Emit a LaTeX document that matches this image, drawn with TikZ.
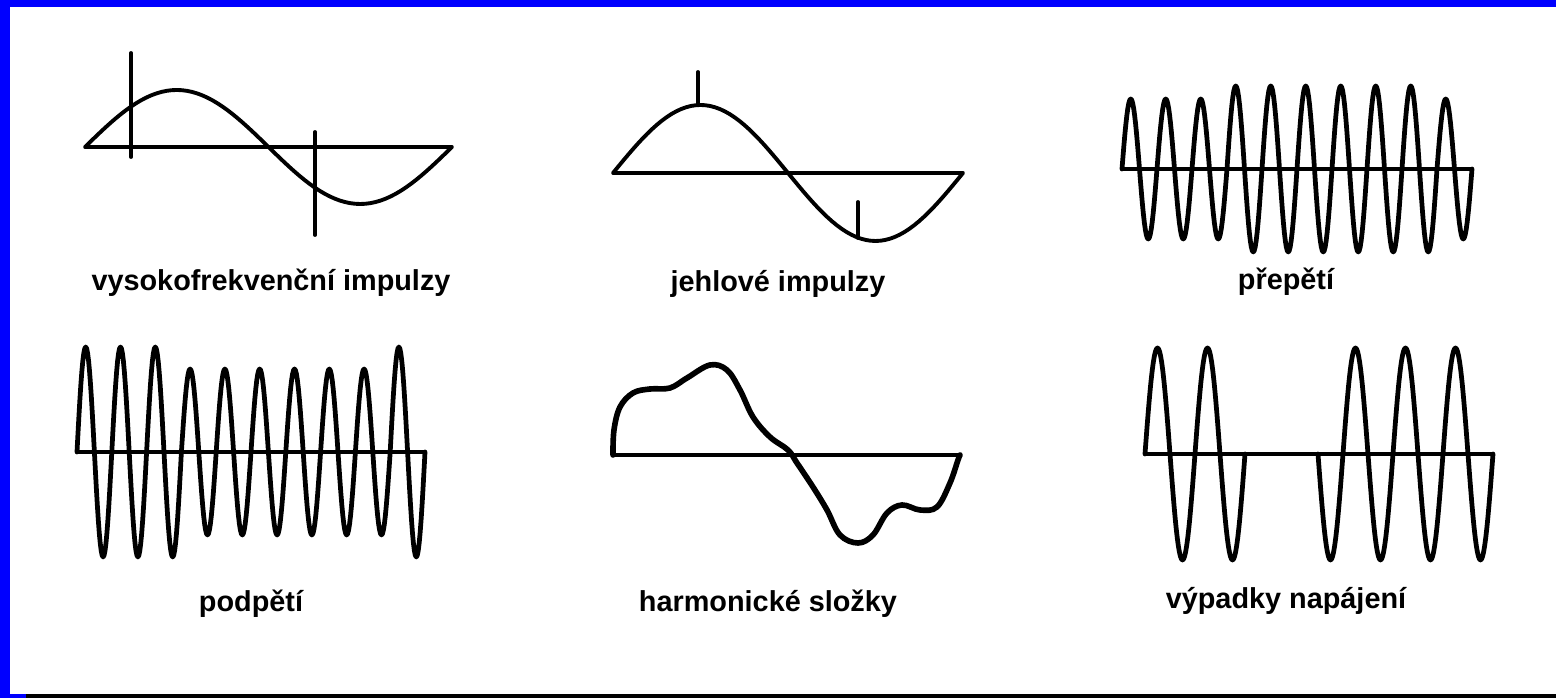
\documentclass[tikz,border=0pt]{standalone}
\usepackage{fontspec}
\setmainfont{Liberation Sans}

\begin{document}
\begin{tikzpicture}[
        x=0.01cm, y=-0.01cm,
        every node/.style={font=\fontsize{8.2}{9.8}\selectfont\bfseries},
        axis/.style={line width=0.9pt, line cap=round},
        wave/.style={line width=1.1pt, line cap=round, line join=round},
        osc/.style={line width=1.35pt, line cap=round, line join=round},
        harm/.style={line width=1.6pt, line cap=round, line join=round},
        spike/.style={line width=1.1pt, line cap=round},
        lbl/.style={anchor=base}
    ]
        \useasboundingbox (0,0) rectangle (1556,698);
        % frame
        \fill[blue] (0,0) rectangle (1556,7);
        \fill[blue] (0,0) rectangle (10,698);
        \fill[blue] (0,694) rectangle (26,698);
        \fill[black] (26,694) rectangle (1556,698);

        % high-frequency pulses
        \draw[axis] (85,147) -- (452,147);
        \draw[wave] plot[domain=0:360, samples=73] ({85+\x/360*367}, {147-57*sin(\x)});
        \draw[spike] (131,53) -- (131,157);
        \draw[spike] (315,132) -- (315,235);

        % needle pulses
        \draw[axis] (613,173) -- (963,173);
        \draw[wave] plot[domain=0:360, samples=73] ({613+\x/360*350}, {173-68*sin(\x)});
        \draw[spike] (698,72) -- (698,105);
        \draw[spike] (858,202) -- (858,238);

        % overvoltage
        \draw[axis] (1122,169) -- (1472,169);
        \foreach \k/\a in {0/70,1/70,2/70,3/83,4/83,5/83,6/83,7/83,8/83,9/70}
            \draw[osc] plot[domain=0:360, samples=37] ({1122+35*\k+\x/360*35}, {169-\a*sin(\x)});

        % undervoltage
        \draw[axis] (77,452) -- (425,452);
        \foreach \k/\a in {0/105,1/105,2/105,3/83,4/83,5/83,6/83,7/83,8/83,9/105}
            \draw[osc] plot[domain=0:360, samples=37] ({77+34.8*\k+\x/360*34.8}, {452-\a*sin(\x)});

        % harmonics
        \draw[axis] (613,455) -- (960,455);
        \draw[harm] plot[smooth, tension=0.6] coordinates {
            (613,455) (614,430) (620,407) (633,393) (650,389) (670,388)
            (687,378) (710,365) (727,370) (740,390) (753,417) (770,437)
            (788,450) (797,463) (813,487) (827,510) (840,535) (858,543)
            (873,535) (887,513) (902,505) (920,510) (937,507) (950,483)
            (958,460) (960,455)};

        % dropouts
        \draw[axis] (1145,454) -- (1493,454);
        \draw[osc] plot[domain=0:720, samples=97] ({1145+\x/360*50}, {454-106*sin(\x)});
        \draw[osc] plot[domain=180:1440, samples=169] ({1318+(\x-180)/360*50}, {454-106*sin(\x)});

        \node[lbl] (l1) at (271,291) {vysokofrekvenční impulzy};
        \node[lbl] (l2) at (778,292) {jehlové impulzy};
        \node[lbl] (l3) at (1286,290) {přepětí};
        \node[lbl] (l4) at (251,612) {podpětí};
        \node[lbl] (l5) at (768,612) {harmonické složky};
        \node[lbl] (l6) at (1286,609) {výpadky napájení};
    \end{tikzpicture}
\end{document}
